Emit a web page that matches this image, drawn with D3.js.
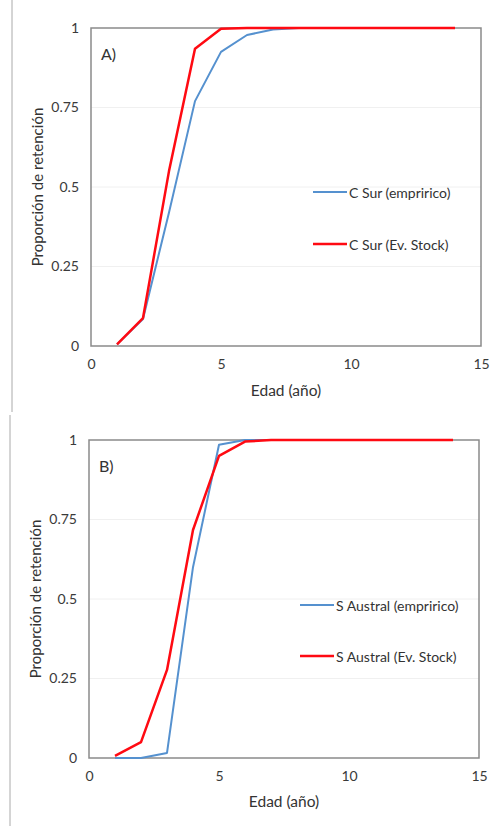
<!DOCTYPE html>
<html><head><meta charset="utf-8">
<script src="https://cdn.jsdelivr.net/npm/d3@7"></script>
<style>body{margin:0;background:#fff}svg{display:block}text{font-family:Lato,"Open Sans",sans-serif;fill:#333}</style>
</head><body>
<script>
const ages = [1,2,3,4,5,6,7,8,9,10,11,12,13,14];
const cSurEmpirico = [0.005,0.085,0.42,0.77,0.925,0.978,0.995,1,1,1,1,1,1,1];
const cSurEvStock  = [0.005,0.088,0.55,0.935,0.998,1,1,1,1,1,1,1,1,1];
const sAustralEmpirico = [0,0,0.016,0.6,0.985,1,1,1,1,1,1,1,1,1];
const sAustralEvStock  = [0.007,0.05,0.277,0.717,0.95,0.995,1,1,1,1,1,1,1,1];
const xTicks = [0,5,10,15];
const yTicks = [0,0.25,0.5,0.75,1];
const panelLabels = ["A)","B)"];
const legendA = ["C Sur (empririco)","C Sur (Ev. Stock)"];
const legendB = ["S Austral (empririco)","S Austral (Ev. Stock)"];

const svg = d3.select("body").append("svg").attr("width",497).attr("height",826);
const BLUE = "#5591cf", RED = "#ff0a12";

function panel(cfg){
  const g = svg.append("g");
  g.append("line").attr("x1",cfg.edgeX).attr("x2",cfg.edgeX).attr("y1",cfg.edgeY0).attr("y2",cfg.edgeY1)
    .attr("stroke","#aaa").attr("stroke-width",1);
  const x = d3.scaleLinear().domain([0,15]).range([cfg.left,cfg.right]);
  const y = d3.scaleLinear().domain([0,1]).range([cfg.bottom,cfg.top]);
  g.selectAll(".grid").data(yTicks.filter(d=>d>0&&d<1)).join("line")
    .attr("x1",x(0)).attr("x2",x(15)).attr("y1",d=>y(d)).attr("y2",d=>y(d))
    .attr("stroke","#f0f0f0").attr("stroke-width",1);
  g.append("rect").attr("x",x(0)).attr("y",y(1)).attr("width",x(15)-x(0)).attr("height",y(0)-y(1))
    .attr("fill","none").attr("stroke","#8a8a8a").attr("stroke-width",1.5);
  const xa = g.append("g").attr("transform",`translate(0,${y(0)})`)
    .call(d3.axisBottom(x).tickValues(xTicks).tickSize(0).tickPadding(13).tickFormat(d3.format("d")));
  xa.select(".domain").remove();
  xa.selectAll("text").attr("font-size",14).style("fill","#3a3a3a");
  const ya = g.append("g").attr("transform",`translate(${x(0)},0)`)
    .call(d3.axisLeft(y).tickValues(yTicks).tickSize(0).tickPadding(12).tickFormat(d=>String(d)));
  ya.select(".domain").remove();
  ya.selectAll("text").attr("font-size",14).style("fill","#3a3a3a");
  g.append("text").attr("x",(x(0)+x(15))/2).attr("y",cfg.xTitleY).attr("text-anchor","middle")
    .attr("font-size",15.5).text("Edad (año)");
  g.append("text").attr("transform",`translate(${cfg.yTitleX},${(y(0)+y(1))/2}) rotate(-90)`)
    .attr("text-anchor","middle").attr("dominant-baseline","central").attr("font-size",15).text("Proporción de retención");
  g.append("text").attr("x",x(0)+10).attr("y",y(1)+25).attr("dominant-baseline","central")
    .attr("font-size",16).text(cfg.label);
  const line = d3.line().x((d,i)=>x(ages[i])).y(d=>y(d));
  g.append("path").attr("d",line(cfg.emp)).attr("fill","none").attr("stroke",BLUE).attr("stroke-width",2).attr("stroke-linejoin","round");
  g.append("path").attr("d",line(cfg.ev)).attr("fill","none").attr("stroke",RED).attr("stroke-width",2.5).attr("stroke-linejoin","round");
  const lg = [[cfg.legend[0],BLUE,2,cfg.legY0],[cfg.legend[1],RED,2.5,cfg.legY1]];
  lg.forEach(([t,c,w,ly])=>{
    g.append("line").attr("x1",cfg.legX).attr("x2",cfg.legX+34).attr("y1",ly).attr("y2",ly).attr("stroke",c).attr("stroke-width",w);
    g.append("text").attr("x",cfg.legX+36).attr("y",ly).attr("dominant-baseline","central").attr("font-size",14).text(t);
  });
}

panel({left:91,right:481,top:28,bottom:346,xTitleY:396,yTitleX:37,label:panelLabels[0],
  emp:cSurEmpirico,ev:cSurEvStock,legend:legendA,legX:313,legY0:192,legY1:244,
  edgeX:12,edgeY0:0,edgeY1:412});
panel({left:89,right:479,top:440,bottom:758,xTitleY:807,yTitleX:35,label:panelLabels[1],
  emp:sAustralEmpirico,ev:sAustralEvStock,legend:legendB,legX:300,legY0:605,legY1:656,
  edgeX:10,edgeY0:415,edgeY1:826});
</script>
</body></html>
